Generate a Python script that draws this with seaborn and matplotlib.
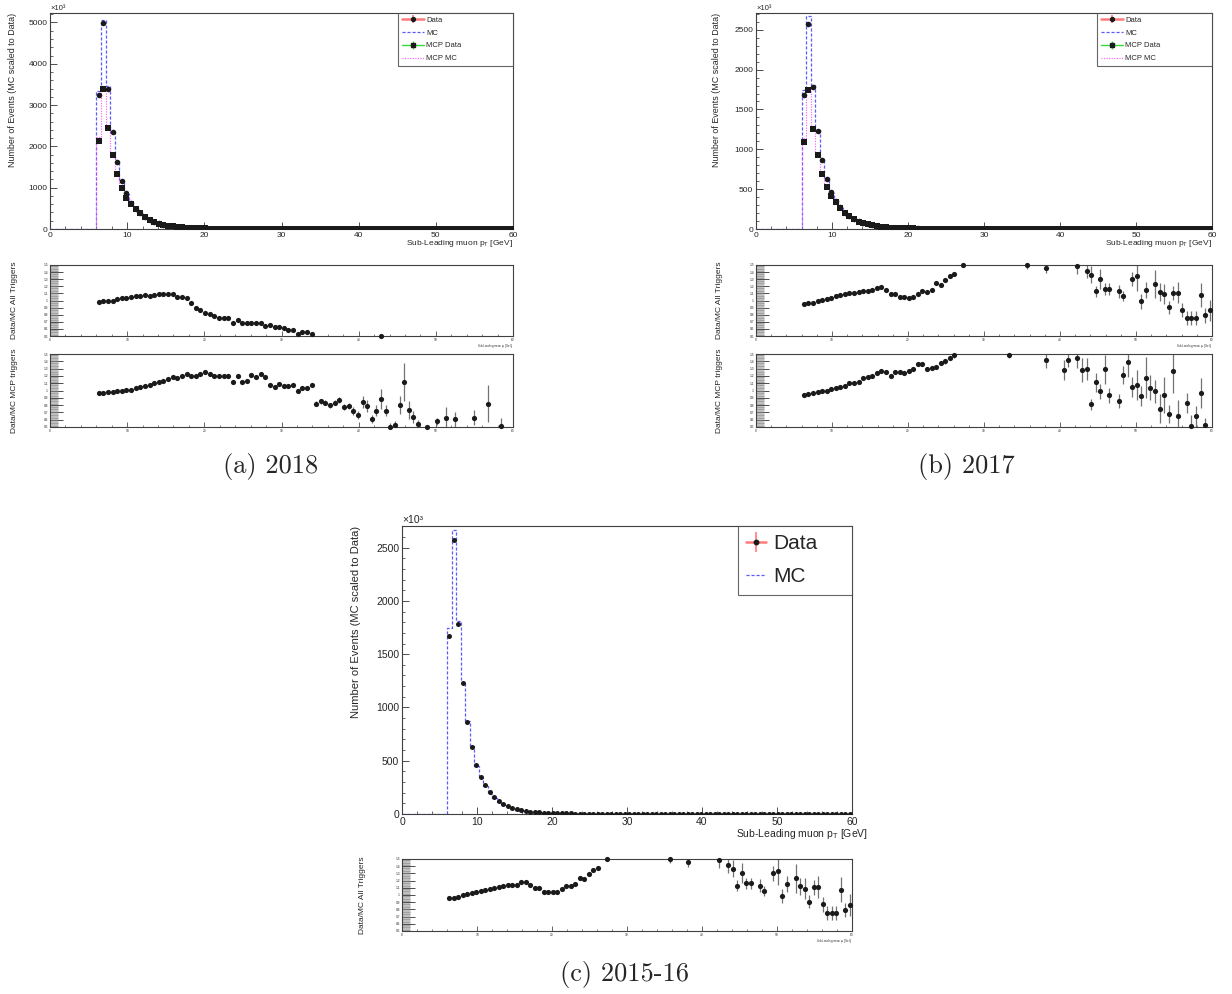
import numpy as np
import matplotlib
matplotlib.use('Agg')
import matplotlib.pyplot as plt
import seaborn as sns
from matplotlib.lines import Line2D
from matplotlib.ticker import MultipleLocator, FuncFormatter

# 100 bins of 0.6 GeV on 0-60 GeV, events start at 6 GeV (bins 10..99)
N_BINS, PT_RANGE = 100, (0, 60)
bin_edges = np.linspace(PT_RANGE[0], PT_RANGE[1], N_BINS + 1)
pt_centres = ((bin_edges[:-1] + bin_edges[1:]) / 2)[10:]

# ---- main histograms, values in units of 10^3 events ----
a_data = [3250, 4980, 3400, 2340, 1630, 1170, 870, 640, 490, 390,
          300, 228, 177, 137, 106, 83, 65, 51, 41, 33,
          26, 21, 17, 14, 11.5, 9.5, 7.8, 6.5, 5.4, 4.5,
          3.8, 3.2, 2.7, 2.3, 2.0, 1.7, 1.5, 1.3, 1.1, 1.0,
          0.9, 0.8, 0.7, 0.6, 0.55, 0.5, 0.45, 0.4, 0.36, 0.33,
          0.3, 0.27, 0.25, 0.22, 0.2, 0.18, 0.17, 0.15, 0.14, 0.13,
          0.12, 0.11, 0.1, 0.09, 0.085, 0.08, 0.075, 0.07, 0.065, 0.06,
          0.055, 0.05, 0.047, 0.044, 0.041, 0.038, 0.035, 0.033, 0.031, 0.029,
          0.027, 0.025, 0.023, 0.022, 0.021, 0.02, 0.019, 0.018, 0.017, 0.016]
a_mc = [3340, 5060, 3460, 2360, 1650, 1160, 840, 615, 462, 366,
        280, 214, 165, 126, 98, 76, 59, 49, 39, 32,
        27, 23.5, 20, 17, 14, 12, 10.4, 8.6, 7.2, 6.5,
        5.3, 4.6, 4.0, 3.3, 2.9, 2.5, 2.4, 2.0, 1.75, 1.6,
        1.5, 1.35, 1.2, 1.1, 1.0, 0.9, 0.82, 0.75, 0.68, 0.62,
        0.56, 0.51, 0.47, 0.43, 0.4, 0.37, 0.34, 0.31, 0.29, 0.27,
        0.25, 0.23, 0.21, 0.2, 0.19, 0.18, 0.17, 0.16, 0.15, 0.14,
        0.13, 0.12, 0.11, 0.1, 0.095, 0.09, 0.085, 0.08, 0.075, 0.07,
        0.066, 0.062, 0.058, 0.055, 0.052, 0.049, 0.046, 0.043, 0.041, 0.039]
a_mcp_data = [2140, 3380, 2450, 1780, 1330, 1000, 760, 610, 480, 380,
              295, 225, 172, 133, 103, 80, 63, 50, 40, 32,
              25, 20, 16, 13, 11, 9, 7.4, 6.1, 5.1, 4.3,
              3.6, 3.1, 2.6, 2.2, 1.9, 1.6, 1.4, 1.2, 1.05, 0.92,
              0.8, 0.7, 0.62, 0.55, 0.49, 0.44, 0.4, 0.36, 0.32, 0.29,
              0.26, 0.24, 0.22, 0.2, 0.18, 0.16, 0.15, 0.14, 0.13, 0.12,
              0.11, 0.1, 0.09, 0.085, 0.08, 0.075, 0.07, 0.065, 0.06, 0.055,
              0.05, 0.047, 0.044, 0.041, 0.038, 0.035, 0.033, 0.031, 0.029, 0.027,
              0.025, 0.023, 0.022, 0.021, 0.02, 0.019, 0.018, 0.017, 0.016, 0.015]
a_mcp_mc = [2220, 3420, 2480, 1800, 1340, 1010, 755, 600, 460, 360,
            278, 212, 160, 121, 92, 69, 53, 42, 33, 26,
            21, 16.5, 13, 10.5, 8.6, 7.2, 6.1, 5.1, 4.2, 3.8,
            3.0, 2.7, 2.3, 1.8, 1.6, 1.35, 1.15, 1.0, 0.97, 0.85,
            0.76, 0.66, 0.58, 0.55, 0.47, 0.52, 0.47, 0.45, 0.45, 0.4,
            0.33, 0.3, 0.34, 0.27, 0.24, 0.25, 0.2, 0.2, 0.18, 0.19,
            0.17, 0.15, 0.14, 0.14, 0.13, 0.12, 0.1, 0.1, 0.09, 0.09,
            0.08, 0.075, 0.07, 0.066, 0.06, 0.057, 0.053, 0.05, 0.047, 0.045,
            0.043, 0.04, 0.038, 0.036, 0.034, 0.033, 0.031, 0.03, 0.029, 0.028]

b_data = [1675, 2575, 1780, 1225, 867, 630, 458, 350, 275, 205,
          158, 120, 95, 75, 58, 45, 35, 28, 22, 18,
          15, 12.5, 10.5, 9, 7.7, 6.6, 5.7, 5, 4.4, 3.9,
          3.4, 3.0, 2.6, 2.3, 2.0, 1.8, 1.6, 1.4, 1.25, 1.1,
          1.0, 0.9, 0.8, 0.72, 0.65, 0.58, 0.52, 0.47, 0.43, 0.39,
          0.35, 0.32, 0.29, 0.26, 0.24, 0.22, 0.2, 0.18, 0.17, 0.15,
          0.14, 0.13, 0.12, 0.11, 0.1, 0.095, 0.09, 0.085, 0.08, 0.075,
          0.07, 0.065, 0.06, 0.056, 0.052, 0.048, 0.045, 0.042, 0.039, 0.036,
          0.034, 0.032, 0.03, 0.028, 0.026, 0.024, 0.023, 0.022, 0.021, 0.02]
b_mc = [1750, 2667, 1810, 1240, 875, 640, 455, 340, 262, 192,
        146, 110, 86, 66, 51, 39, 30, 24, 19, 15.5,
        13.5, 11.5, 10, 8.5, 7.2, 6, 5.1, 4.4, 3.7, 3.1,
        2.7, 2.3, 1.9, 1.7, 1.5, 1.3, 1.1, 0.95, 0.85, 0.75,
        0.67, 0.6, 0.54, 0.48, 0.43, 0.39, 0.35, 0.32, 0.29, 0.26,
        0.24, 0.22, 0.2, 0.18, 0.17, 0.16, 0.15, 0.14, 0.13, 0.12,
        0.11, 0.105, 0.1, 0.095, 0.09, 0.085, 0.08, 0.075, 0.07, 0.066,
        0.062, 0.058, 0.055, 0.052, 0.049, 0.046, 0.043, 0.041, 0.039, 0.037,
        0.035, 0.033, 0.031, 0.03, 0.029, 0.028, 0.027, 0.026, 0.025, 0.024]
b_mcp_data = [1090, 1740, 1260, 925, 690, 530, 415, 335, 268, 205,
              158, 120, 93, 73, 57, 44, 34, 27, 21.5, 17.5,
              14.5, 12, 10, 8.5, 7.2, 6.2, 5.3, 4.6, 4, 3.5,
              3.1, 2.7, 2.4, 2.1, 1.9, 1.7, 1.5, 1.35, 1.2, 1.05,
              0.95, 0.85, 0.76, 0.68, 0.61, 0.55, 0.5, 0.45, 0.41, 0.37,
              0.33, 0.3, 0.27, 0.25, 0.23, 0.21, 0.19, 0.17, 0.16, 0.15,
              0.14, 0.13, 0.12, 0.11, 0.1, 0.095, 0.09, 0.085, 0.08, 0.075,
              0.07, 0.065, 0.06, 0.056, 0.052, 0.048, 0.045, 0.042, 0.039, 0.036,
              0.034, 0.032, 0.03, 0.028, 0.026, 0.024, 0.023, 0.022, 0.021, 0.02]
b_mcp_mc = [1140, 1760, 1270, 940, 695, 525, 400, 318, 250, 190,
            142, 108, 82, 62, 47, 36, 27, 21, 17, 14,
            11.5, 9.5, 8, 6.5, 5.5, 4.7, 4.0, 3.4, 2.9, 2.5,
            2.2, 1.9, 1.6, 1.4, 1.3, 1.15, 1.0, 0.9, 0.8, 0.72,
            0.64, 0.58, 0.52, 0.47, 0.42, 0.38, 0.34, 0.31, 0.28, 0.26,
            0.24, 0.22, 0.2, 0.18, 0.17, 0.16, 0.15, 0.14, 0.13, 0.12,
            0.11, 0.1, 0.095, 0.09, 0.085, 0.08, 0.075, 0.07, 0.066, 0.062,
            0.058, 0.055, 0.052, 0.049, 0.046, 0.043, 0.041, 0.039, 0.037, 0.035,
            0.033, 0.031, 0.03, 0.029, 0.028, 0.027, 0.026, 0.025, 0.024, 0.023]

# 2015-16 panel, identical to the 2017 curves
c_data = b_data
c_mc = b_mc

# ---- ratio panels ----
a_all_pt = [6.3, 6.9, 7.5, 8.1, 8.7, 9.3, 9.9, 10.5, 11.1, 11.7,
            12.3, 12.9, 13.5, 14.1, 14.7, 15.3, 15.9, 16.5, 17.1, 17.7,
            18.3, 18.9, 19.5, 20.1, 20.7, 21.3, 21.9, 22.5, 23.1, 23.7,
            24.3, 24.9, 25.5, 26.1, 26.7, 27.3, 27.9, 28.5, 29.1, 29.7,
            30.3, 30.9, 31.5, 32.1, 32.7, 33.3, 33.9, 42.9]
a_all_ratio = [0.976, 0.986, 0.99, 1.0, 1.02, 1.03, 1.04, 1.05, 1.066, 1.07,
               1.076, 1.066, 1.076, 1.095, 1.085, 1.085, 1.095, 1.05, 1.05, 1.04,
               0.96, 0.895, 0.86, 0.82, 0.81, 0.78, 0.75, 0.76, 0.75, 0.69,
               0.72, 0.69, 0.68, 0.69, 0.69, 0.69, 0.635, 0.65, 0.626, 0.626,
               0.61, 0.59, 0.59, 0.53, 0.56, 0.56, 0.53, 0.50]
a_all_err = [0.004, 0.004, 0.004, 0.004, 0.004, 0.004, 0.005, 0.005, 0.005, 0.005,
             0.006, 0.006, 0.006, 0.007, 0.007, 0.007, 0.008, 0.008, 0.008, 0.009,
             0.009, 0.009, 0.010, 0.010, 0.011, 0.011, 0.012, 0.012, 0.013, 0.013,
             0.014, 0.014, 0.015, 0.015, 0.016, 0.016, 0.017, 0.017, 0.018, 0.018,
             0.019, 0.019, 0.020, 0.020, 0.021, 0.021, 0.022, 0.030]

a_mcp_pt = [6.3, 6.9, 7.5, 8.1, 8.7, 9.3, 9.9, 10.5, 11.1, 11.7,
            12.3, 12.9, 13.5, 14.1, 14.7, 15.3, 15.9, 16.5, 17.1, 17.7,
            18.3, 18.9, 19.5, 20.1, 20.7, 21.3, 21.9, 22.5, 23.1, 23.7,
            24.3, 24.9, 25.5, 26.1, 26.7, 27.3, 27.9, 28.5, 29.1, 29.7,
            30.3, 30.9, 31.5, 32.1, 32.7, 33.3, 33.9, 34.5, 35.1, 35.7,
            36.3, 36.9, 37.5, 38.1, 38.7, 39.3, 39.9, 40.5, 41.1, 41.7,
            42.3, 42.9, 43.5, 44.1, 44.7, 45.3, 45.9, 46.5, 47.1, 47.7,
            48.9, 50.1, 51.3, 52.5, 54.9, 56.7, 58.5]
a_mcp_ratio = [0.96, 0.97, 0.98, 0.985, 0.99, 0.99, 1.005, 1.005, 1.04, 1.05,
               1.06, 1.075, 1.10, 1.12, 1.125, 1.155, 1.19, 1.175, 1.195, 1.22,
               1.20, 1.20, 1.22, 1.25, 1.23, 1.195, 1.195, 1.20, 1.20, 1.12,
               1.195, 1.11, 1.135, 1.215, 1.185, 1.22, 1.185, 1.08, 1.05, 1.085,
               1.055, 1.065, 1.07, 1.0, 1.035, 1.035, 1.07, 0.82, 0.85, 0.835,
               0.80, 0.835, 0.865, 0.77, 0.79, 0.72, 0.665, 0.84, 0.79, 0.61,
               0.725, 0.885, 0.725, 0.50, 0.53, 0.80, 1.12, 0.73, 0.64, 0.54,
               0.50, 0.58, 0.63, 0.605, 0.63, 0.82, 0.51]
a_mcp_err = [0.005, 0.005, 0.005, 0.005, 0.005, 0.006, 0.006, 0.006, 0.007, 0.007,
             0.008, 0.008, 0.009, 0.009, 0.010, 0.010, 0.011, 0.011, 0.012, 0.012,
             0.013, 0.013, 0.014, 0.014, 0.015, 0.015, 0.016, 0.016, 0.017, 0.017,
             0.018, 0.018, 0.019, 0.019, 0.020, 0.020, 0.021, 0.021, 0.022, 0.022,
             0.023, 0.024, 0.025, 0.025, 0.026, 0.027, 0.028, 0.03, 0.03, 0.03,
             0.035, 0.035, 0.04, 0.04, 0.045, 0.05, 0.05, 0.08, 0.08, 0.06,
             0.08, 0.14, 0.07, 0.05, 0.05, 0.12, 0.26, 0.12, 0.08, 0.06,
             0.03, 0.05, 0.15, 0.10, 0.10, 0.25, 0.12]

b_all_pt = [6.3, 6.9, 7.5, 8.1, 8.7, 9.3, 9.9, 10.5, 11.1, 11.7,
            12.3, 12.9, 13.5, 14.1, 14.7, 15.3, 15.9, 16.5, 17.1, 17.7,
            18.3, 18.9, 19.5, 20.1, 20.7, 21.3, 21.9, 22.5, 23.1, 23.7,
            24.3, 24.9, 25.5, 26.1, 27.3, 35.7, 38.1, 42.3, 43.5, 44.1,
            44.7, 45.3, 45.9, 46.5, 47.7, 48.3, 49.5, 50.1, 50.7, 51.3,
            52.5, 53.1, 53.7, 54.3, 54.9, 55.5, 56.1, 56.7, 57.3, 57.9,
            58.5, 59.1, 59.7]
b_all_ratio = [0.957, 0.96, 0.97, 1.0, 1.01, 1.025, 1.04, 1.06, 1.075, 1.085,
               1.10, 1.11, 1.12, 1.14, 1.14, 1.145, 1.175, 1.185, 1.145, 1.095,
               1.095, 1.047, 1.047, 1.04, 1.043, 1.085, 1.13, 1.125, 1.15, 1.24,
               1.22, 1.29, 1.35, 1.37, 1.50, 1.50, 1.46, 1.49, 1.41, 1.365,
               1.13, 1.30, 1.16, 1.16, 1.13, 1.057, 1.30, 1.34, 0.986, 1.147,
               1.23, 1.12, 1.09, 0.905, 1.105, 1.11, 0.87, 0.75, 0.75, 0.75,
               1.076, 0.79, 0.86]
b_all_err = [0.004, 0.004, 0.004, 0.005, 0.005, 0.005, 0.006, 0.006, 0.006, 0.007,
             0.007, 0.008, 0.008, 0.009, 0.009, 0.010, 0.010, 0.011, 0.012, 0.012,
             0.013, 0.014, 0.014, 0.015, 0.016, 0.017, 0.018, 0.019, 0.020, 0.021,
             0.022, 0.024, 0.026, 0.028, 0.03, 0.06, 0.07, 0.12, 0.10, 0.12,
             0.08, 0.14, 0.08, 0.08, 0.09, 0.07, 0.10, 0.20, 0.10, 0.11,
             0.20, 0.12, 0.14, 0.09, 0.10, 0.15, 0.10, 0.10, 0.10, 0.10,
             0.17, 0.10, 0.15]

b_mcp_pt = [6.3, 6.9, 7.5, 8.1, 8.7, 9.3, 9.9, 10.5, 11.1, 11.7,
            12.3, 12.9, 13.5, 14.1, 14.7, 15.3, 15.9, 16.5, 17.1, 17.7,
            18.3, 18.9, 19.5, 20.1, 20.7, 21.3, 21.9, 22.5, 23.1, 23.7,
            24.3, 24.9, 25.5, 26.1, 33.3, 38.1, 40.5, 41.1, 42.3, 42.9,
            43.5, 44.1, 44.7, 45.3, 45.9, 46.5, 47.7, 48.3, 48.9, 49.5,
            50.1, 50.7, 51.3, 51.9, 52.5, 53.1, 53.7, 54.3, 54.9, 55.5,
            56.7, 57.3, 57.9, 58.5, 59.1]
b_mcp_ratio = [0.935, 0.95, 0.97, 0.985, 0.99, 0.995, 1.015, 1.03, 1.045, 1.065,
               1.10, 1.105, 1.12, 1.17, 1.185, 1.20, 1.245, 1.265, 1.255, 1.205,
               1.26, 1.255, 1.245, 1.27, 1.30, 1.365, 1.36, 1.29, 1.31, 1.325,
               1.38, 1.40, 1.445, 1.48, 1.48, 1.415, 1.28, 1.42, 1.45, 1.28,
               1.295, 0.81, 1.115, 0.99, 1.29, 0.935, 0.855, 1.21, 1.39, 1.045,
               1.075, 0.925, 1.175, 1.04, 0.99, 0.75, 0.94, 0.675, 1.265, 0.645,
               0.83, 0.51, 0.645, 0.965, 0.53]
b_mcp_err = [0.005, 0.005, 0.005, 0.006, 0.006, 0.006, 0.007, 0.007, 0.008, 0.008,
             0.009, 0.009, 0.010, 0.010, 0.011, 0.012, 0.012, 0.013, 0.014, 0.015,
             0.016, 0.017, 0.018, 0.019, 0.020, 0.021, 0.022, 0.024, 0.026, 0.028,
             0.030, 0.032, 0.034, 0.036, 0.04, 0.10, 0.14, 0.10, 0.14, 0.17,
             0.15, 0.08, 0.13, 0.10, 0.20, 0.10, 0.10, 0.12, 0.20, 0.14,
             0.20, 0.14, 0.28, 0.17, 0.16, 0.20, 0.25, 0.12, 0.30, 0.22,
             0.14, 0.15, 0.14, 0.20, 0.10]

c_all_pt = b_all_pt
c_all_ratio = b_all_ratio
c_all_err = b_all_err

# colours / fonts
MC_BLUE = '#5a5aff'
MCP_PINK = '#ff55ff'
DATA_RED = '#ff7a7a'
MCP_GREEN = '#33dd33'
MC_DASH = (0, (2.5, 1.5))
MCP_DOT = (0, (1, 1.3))
CAPTION_FONT = ['cmr10', 'DejaVu Serif']
W, H = 1232, 994
XLABEL = 'Sub-Leading muon p$_{\\mathrm{T}}$ [GeV]'

sns.set_theme(style='ticks')
plt.rcParams['font.family'] = ['Liberation Sans', 'DejaVu Sans']
plt.rcParams['mathtext.fontset'] = 'custom'
plt.rcParams['mathtext.rm'] = 'Liberation Sans'
plt.rcParams['mathtext.it'] = 'Liberation Sans:italic'
plt.rcParams['axes.unicode_minus'] = False


def box(x0, y0, x1, y1):
    # pixel box in the 1232x994 canvas -> figure fraction
    return [x0 / W, 1 - y1 / H, (x1 - x0) / W, (y1 - y0) / H]


def frame(ax):
    for s in ax.spines.values():
        s.set_color('0.25')
        s.set_linewidth(0.8)
        s.set_visible(True)


def style_main(ax, ymax, ymajor, yminor, fs):
    ax.set_xlim(0, 60)
    ax.set_ylim(0, ymax)
    ax.xaxis.set_major_locator(MultipleLocator(10))
    ax.xaxis.set_minor_locator(MultipleLocator(2))
    ax.yaxis.set_major_locator(MultipleLocator(ymajor))
    ax.yaxis.set_minor_locator(MultipleLocator(yminor))
    ax.yaxis.set_major_formatter(FuncFormatter(lambda v, p: f'{v:g}'))
    ax.tick_params(which='both', direction='in', top=False, right=False,
                   labelsize=fs, color='0.3', pad=2)
    ax.tick_params(which='major', length=5, width=0.7)
    ax.tick_params(which='minor', length=2.5, width=0.6)
    ax.set(xlabel='', ylabel='')
    frame(ax)


def draw_main(ax, data, mc, mcp_data=None, mcp_mc=None, ms=16):
    sns.scatterplot(x=pt_centres, y=data, marker='o', color='k', s=ms,
                    linewidth=0, legend=False, ax=ax, zorder=3)
    sns.histplot(x=pt_centres, weights=mc, bins=N_BINS, binrange=PT_RANGE,
                 element='step', fill=False, color=MC_BLUE,
                 linestyle=MC_DASH, linewidth=0.9, ax=ax, zorder=2)
    if mcp_data is not None:
        sns.scatterplot(x=pt_centres, y=mcp_data, marker='s', color='k',
                        s=ms, linewidth=0, legend=False, ax=ax, zorder=4)
        sns.histplot(x=pt_centres, weights=mcp_mc, bins=N_BINS,
                     binrange=PT_RANGE, element='step', fill=False,
                     color=MCP_PINK, linestyle=MCP_DOT, linewidth=0.8,
                     ax=ax, zorder=2)


def legend_main(ax, with_mcp, fs, anchor, spacing, ms, hlen, bpad):
    h_data = ax.errorbar([np.nan], [np.nan], yerr=[1], fmt='-o',
                         color=DATA_RED, mfc='k', mec='k', ms=ms, lw=1.8,
                         elinewidth=1.2)
    handles = [h_data, Line2D([], [], color=MC_BLUE, ls=MC_DASH, lw=0.9)]
    labels = ['Data', 'MC']
    if with_mcp:
        h_mcp = ax.errorbar([np.nan], [np.nan], yerr=[1], fmt='-s',
                            color=MCP_GREEN, mfc='k', mec='k', ms=ms, lw=1.0,
                            elinewidth=1.0)
        handles += [h_mcp, Line2D([], [], color=MCP_PINK, ls=MCP_DOT, lw=0.8)]
        labels += ['MCP Data', 'MCP MC']
    leg = ax.legend(handles, labels, loc='upper left', bbox_to_anchor=anchor,
                    mode='expand', borderaxespad=0, frameon=True,
                    fancybox=False, edgecolor='0.25', fontsize=fs,
                    handlelength=hlen, handletextpad=0.35,
                    labelspacing=spacing, borderpad=bpad)
    leg.get_frame().set_linewidth(0.8)


def draw_ratio(ax, x, y, err, label, label_x, xlabel=True):
    ax.errorbar(x, y, yerr=err, fmt='none', ecolor='0.45', elinewidth=0.9)
    sns.scatterplot(x=x, y=y, marker='o', color='k', s=14, linewidth=0,
                    legend=False, clip_on=False, ax=ax, zorder=3)
    ax.set_xlim(0, 60)
    ax.set_ylim(0.5, 1.5)
    ax.xaxis.set_major_locator(MultipleLocator(10))
    ax.xaxis.set_minor_locator(MultipleLocator(2))
    ax.yaxis.set_major_locator(MultipleLocator(0.1))
    ax.yaxis.set_minor_locator(MultipleLocator(0.01))
    ax.yaxis.set_major_formatter(FuncFormatter(lambda v, p: f'{v:.1f}'.rstrip('0').rstrip('.')))
    ax.tick_params(which='both', direction='in', top=False, right=False,
                   labelsize=2.3, pad=1.5, color='0.3')
    ax.tick_params(axis='y', which='major', length=9, width=0.7)
    ax.tick_params(axis='y', which='minor', length=5.5, width=0.4, color='0.55')
    ax.tick_params(axis='x', which='major', length=3.5, width=0.6)
    ax.tick_params(axis='x', which='minor', length=1.5, width=0.5)
    ax.set(xlabel='', ylabel='')
    ax.text(label_x, 0.5, label, rotation=90, ha='center', va='center',
            fontsize=6, transform=ax.transAxes)
    if xlabel:
        ax.text(1.0, -0.09, XLABEL, ha='right', va='top', fontsize=2.0,
                transform=ax.transAxes)
    frame(ax)


fig = plt.figure(figsize=(W / 100, H / 100), dpi=100)

# ---- (a) 2018 ----
ax = fig.add_axes(box(50, 13, 513, 229))
draw_main(ax, a_data, a_mc, a_mcp_data, a_mcp_mc)
style_main(ax, 5230, 1000, 200, 6)
legend_main(ax, True, 5.5, (0.752, 1.0, 0.248, 0), 0.72, 2.8, 2.9, 0.45)
ax.text(0.0, 1.005, '×10³', ha='left', va='bottom', fontsize=5.5,
        transform=ax.transAxes)
ax.text(-0.082, 1.0, 'Number of Events (MC scaled to Data)', rotation=90,
        ha='center', va='top', fontsize=6.4, transform=ax.transAxes)
ax.text(1.0, -0.04, XLABEL, ha='right', va='top', fontsize=6,
        transform=ax.transAxes)

ax = fig.add_axes(box(50, 265, 513, 336))
draw_ratio(ax, a_all_pt, a_all_ratio, a_all_err, 'Data/MC All Triggers', -0.076)
ax = fig.add_axes(box(50, 354, 513, 427))
draw_ratio(ax, a_mcp_pt, a_mcp_ratio, a_mcp_err, 'Data/MC MCP triggers', -0.076,
           xlabel=False)

# ---- (b) 2017 ----
ax = fig.add_axes(box(756, 13, 1212, 229))
draw_main(ax, b_data, b_mc, b_mcp_data, b_mcp_mc)
style_main(ax, 2710, 500, 100, 6)
legend_main(ax, True, 5.5, (0.748, 1.0, 0.252, 0), 0.72, 2.8, 2.9, 0.45)
ax.text(0.0, 1.005, '×10³', ha='left', va='bottom', fontsize=5.5,
        transform=ax.transAxes)
ax.text(-0.086, 1.0, 'Number of Events (MC scaled to Data)', rotation=90,
        ha='center', va='top', fontsize=6.4, transform=ax.transAxes)
ax.text(1.0, -0.04, XLABEL, ha='right', va='top', fontsize=6,
        transform=ax.transAxes)

ax = fig.add_axes(box(756, 265, 1212, 336))
draw_ratio(ax, b_all_pt, b_all_ratio, b_all_err, 'Data/MC All Triggers', -0.081)
ax = fig.add_axes(box(756, 354, 1212, 427))
draw_ratio(ax, b_mcp_pt, b_mcp_ratio, b_mcp_err, 'Data/MC MCP triggers', -0.081,
           xlabel=False)

# ---- (c) 2015-16 ----
ax = fig.add_axes(box(402, 526, 852, 814))
draw_main(ax, c_data, c_mc, ms=13)
style_main(ax, 2703, 500, 100, 7.5)
legend_main(ax, False, 15, (0.747, 1.0, 0.253, 0), 0.68, 3.2, 0.95, 0.4)
ax.text(0.0, 1.005, '×10³', ha='left', va='bottom', fontsize=7.5,
        transform=ax.transAxes)
ax.text(-0.102, 1.0, 'Number of Events (MC scaled to Data)', rotation=90,
        ha='center', va='top', fontsize=8, transform=ax.transAxes)
ax.text(1.035, -0.045, XLABEL, ha='right', va='top', fontsize=7.5,
        transform=ax.transAxes)

ax = fig.add_axes(box(402, 859, 852, 931))
draw_ratio(ax, c_all_pt, c_all_ratio, c_all_err, 'Data/MC All Triggers', -0.087)

# sub-figure captions
fig.text(271 / W, 1 - 467 / H, '(a) 2018', ha='center', va='center',
         fontsize=19, family=CAPTION_FONT)
fig.text(966 / W, 1 - 467 / H, '(b) 2017', ha='center', va='center',
         fontsize=19, family=CAPTION_FONT)
fig.text(625 / W, 1 - 974 / H, '(c) 2015-16', ha='center', va='center',
         fontsize=19, family=CAPTION_FONT)

fig.savefig('out.png', dpi=100, facecolor='white')
